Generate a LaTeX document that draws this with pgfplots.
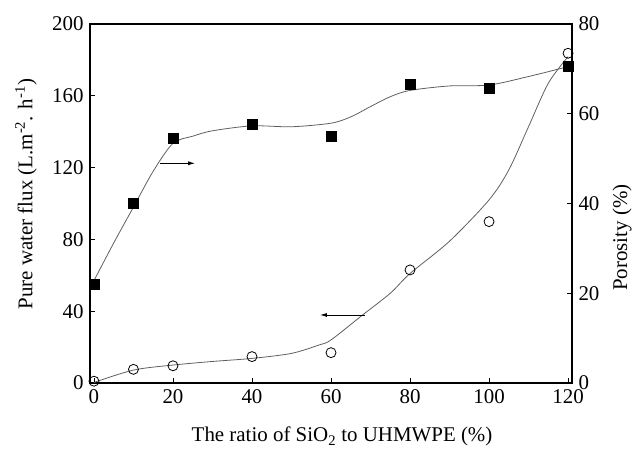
\documentclass[border=0pt]{standalone}
\usepackage{fontspec}
\setmainfont{Liberation Serif}
\usepackage{pgfplots}
\pgfplotsset{compat=1.18}
\usetikzlibrary{calc,arrows.meta}
\definecolor{curve}{RGB}{95,95,95}
\begin{document}
\begin{tikzpicture}
\pgfplotsset{
  base/.style={
    scale only axis, width=482bp, height=359bp,
    xmin=-1, xmax=121,
    tick align=inside, major tick length=5bp,
    tick style={black, line width=0.9pt},
    axis line style={black, line width=1.1pt},
    tick label style={font=\fontsize{21}{21}\selectfont},
    label style={font=\fontsize{21}{23}\selectfont},
    /pgf/number format/assume math mode=true,
  }
}
\begin{axis}[base, name=ax,
  ymin=0, ymax=200,
  xtick={0,20,...,120}, ytick={0,40,...,200},
  xtick pos=bottom, ytick pos=left,
  xticklabel style={yshift=-3bp},
  yticklabel style={xshift=-3bp},
  xlabel={The ratio of SiO\textsubscript{2} to UHMWPE (\%)},
  ylabel={Pure water flux (L.m\textsuperscript{-2}. h\textsuperscript{-1})},
  xlabel style={at={(axis description cs:0.523,-0.150)}, anchor=center},
  ylabel style={at={(axis description cs:-0.133,0.526)}, anchor=center},
]
\addplot[curve, line width=0.8pt, smooth, tension=0.5] coordinates {
(0,0.3) (10,7.2) (20,10) (30,12) (40,13.7) (50,16.5) (57,21.2) (60,24)
(68,37.9) (75,50) (80,61) (90,79) (100,102) (105,118.7) (110,142.8) (115,167) (120,181.8)};
\addplot[only marks, mark=o, mark size=5bp, mark options={black, line width=0.8pt, fill=white}] coordinates {
(0,1) (10,7.6) (20,9.6) (40,14.7) (60,16.9) (80,63) (100,89.9) (120,183.7)};
\draw[-{Latex[length=7bp,width=4bp]}, line width=0.8pt] (axis cs:68.6,37.9) -- (axis cs:57.2,37.9);
\draw[-{Latex[length=7bp,width=4bp]}, line width=0.8pt] (axis cs:16.7,122.4) -- (axis cs:25.6,122.4);
\end{axis}
\begin{axis}[base,
  ymin=0, ymax=80, ytick={0,20,...,80},
  axis x line=none, axis y line*=right,
  yticklabel style={xshift=3bp},
  ylabel={Porosity (\%)},
  ylabel style={at={(axis description cs:1.104,0.405)}, anchor=center},
]
\addplot[curve, line width=0.8pt, smooth, tension=0.5] coordinates {
(0,22.8) (5,31.2) (10,39.2) (15,47.2) (20,53.4) (25,55) (30,56.2) (40,57.3) (50,57.1)
(60,57.9) (65,59.3) (70,61.6) (75,63.8) (80,65.2) (90,66.2) (100,66.4) (110,68.3) (120,70.5)};
\addplot[only marks, mark=square*, mark size=5bp, mark options={black}] coordinates {
(0,22) (10,40) (20,54.5) (40,57.6) (60,55.0) (80,66.6) (100,65.8) (120,70.5)};
\end{axis}
\pgfresetboundingbox
\path ($(ax.south west)+(-90bp,-70bp)$) rectangle ($(ax.north east)+(64bp,24bp)$);
\end{tikzpicture}
\end{document}
